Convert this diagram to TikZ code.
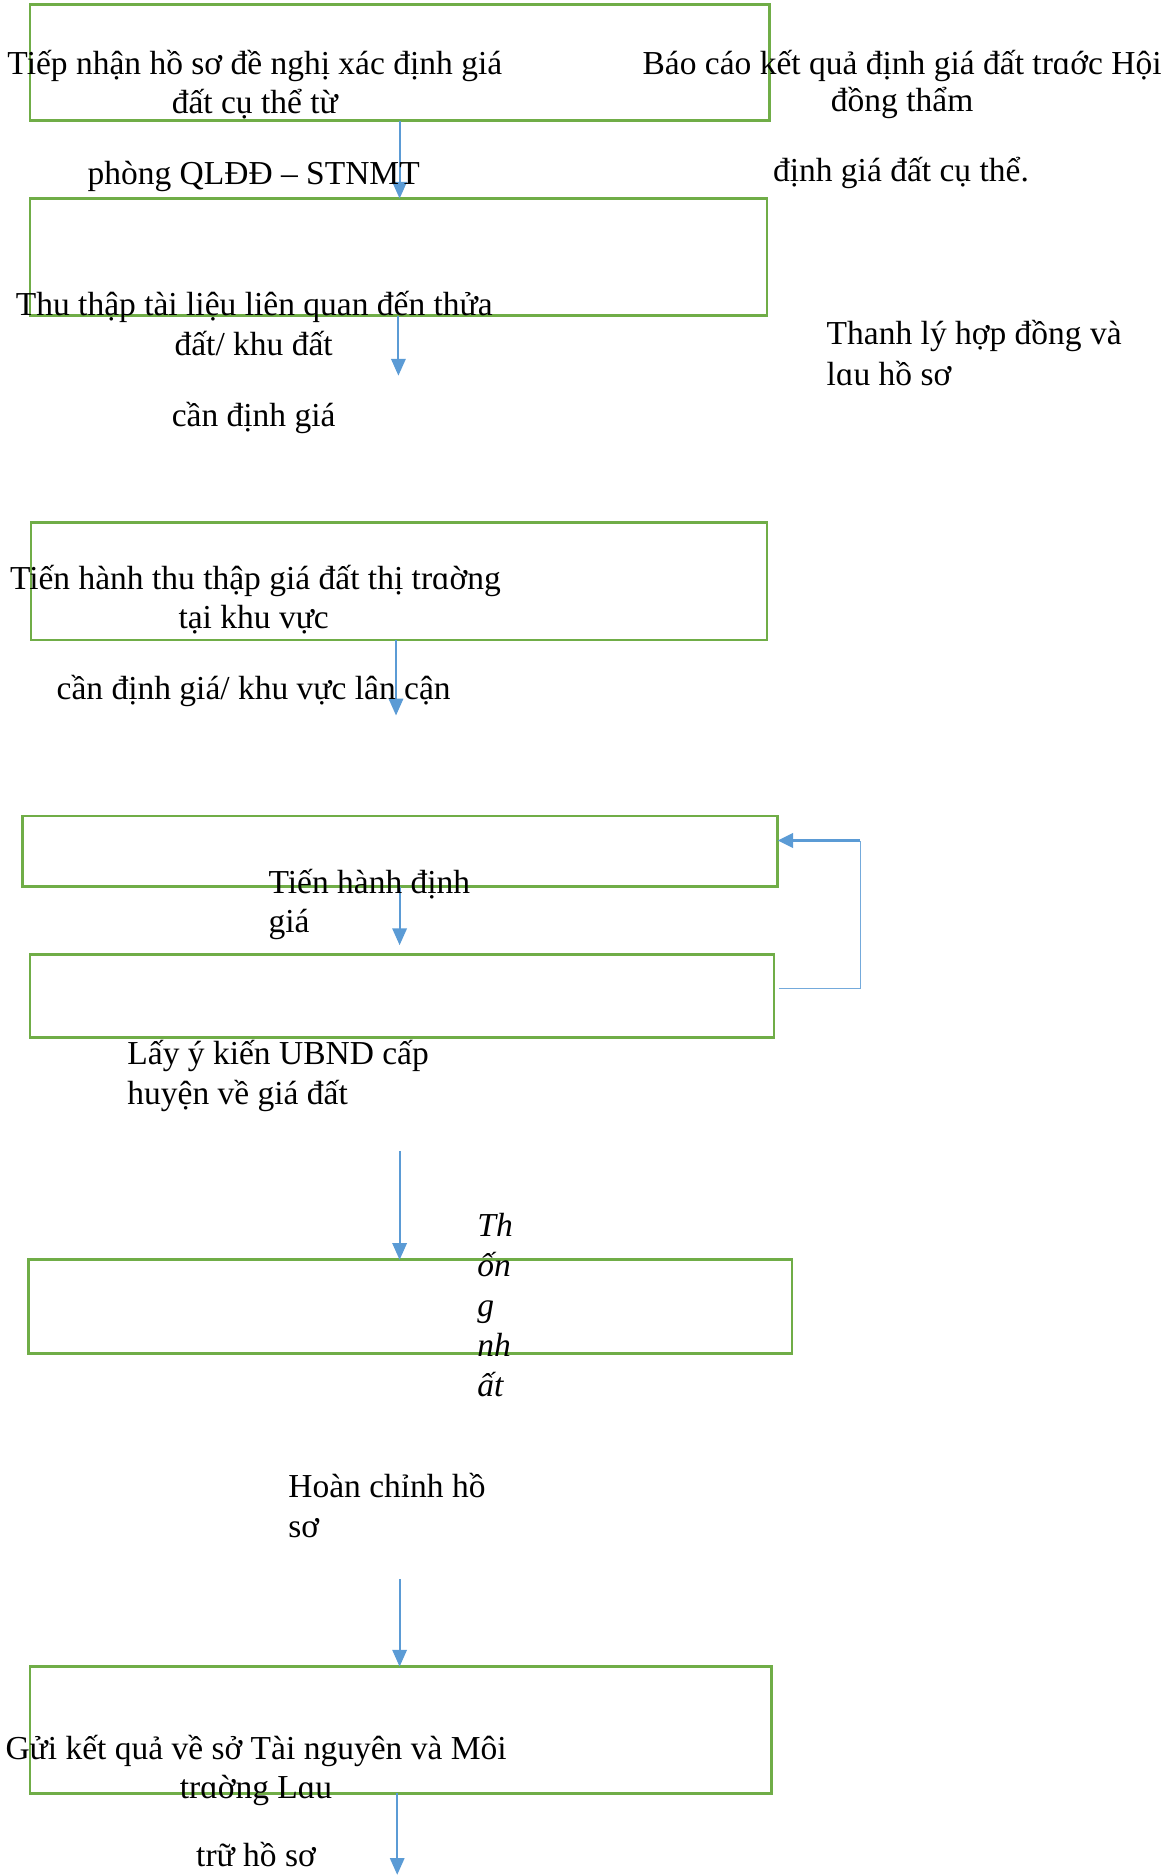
\documentclass[tikz,border=0pt]{standalone}
\usepackage{fontspec}
\setmainfont{Liberation Serif}
\usetikzlibrary{arrows.meta}
\definecolor{boxgreen}{HTML}{70AD47}
\definecolor{flowblue}{HTML}{5B9BD5}

\begin{document}
\begin{tikzpicture}[x=1pt,y=-1pt,
  stepbox/.style={draw=boxgreen, line width=2.3pt, rectangle, inner sep=0pt, outer sep=0pt},
  arr/.style={draw=flowblue, line width=1.7pt, -{Triangle[length=14pt,width=12pt]}},
  backline/.style={draw=flowblue!85, line width=1.1pt},
  lbl/.style={inner sep=0pt, outer sep=0pt, font=\fontsize{28}{33.4}\selectfont},
  ilbl/.style={lbl, font=\fontsize{28}{33.4}\selectfont\itshape}]

\useasboundingbox (0,0) rectangle (981,1568);

% process boxes
\node[stepbox, minimum width=618pt, minimum height=97pt]  (b1) at (334,52.5) {};
\node[stepbox, minimum width=616pt, minimum height=98pt]  (b2) at (333,215) {};
\node[stepbox, minimum width=615pt, minimum height=98pt]  (b3) at (333.5,486) {};
\node[stepbox, minimum width=631pt, minimum height=59pt]  (b4) at (334.5,711.5) {};
\node[stepbox, minimum width=622pt, minimum height=69pt]  (b5) at (336,832.5) {};
\node[stepbox, minimum width=638pt, minimum height=78pt]  (b6) at (343,1092) {};
\node[stepbox, minimum width=620pt, minimum height=106pt] (b7) at (335,1446) {};

% free ends of the connectors
\coordinate (e2) at (333,314);
\coordinate (e3) at (331,598);
\coordinate (e4) at (334,790);
\coordinate (s5) at (334,962);
\coordinate (s6) at (334,1320);
\coordinate (e7) at (332,1567);
\coordinate (fbs) at (651,826);
\coordinate (fbc) at (719,702.5);

% connectors
\draw[arr] (b1.south) -- (b1.south |- b2.north);
\draw[arr] (e2 |- b2.south) -- (e2);
\draw[arr] (e3 |- b3.south) -- (e3);
\draw[arr] (e4 |- b4.south) -- (e4);
\draw[arr] (s5) -- (s5 |- b6.north);
\draw[arr] (s6) -- (s6 |- b7.north);
\draw[arr] (e7 |- b7.south) -- (e7);

% loop back from the opinion step to the valuation step
\draw[backline] (fbs) -| (fbc);
\draw[arr, line width=2.6pt, -{Triangle[length=13pt,width=12pt]}] (fbc) -- (fbc -| b4.east);

% texts
\node[lbl, anchor=base] (t1a) at (213,62) {Tiếp nhận hồ sơ đề nghị xác định giá};
\node[lbl, anchor=base] (t1b) at (213,95) {đất cụ thể từ};
\node[lbl, anchor=base] (t1c) at (212,154) {phòng QLĐĐ – STNMT};

\node[lbl, anchor=base] (t2a) at (754,62) {Báo cáo kết quả định giá đất trɑớc Hội};
\node[lbl, anchor=base] (t2b) at (754,93.5) {đồng thẩm};
\node[lbl, anchor=base] (t2c) at (753,152) {định giá đất cụ thể.};

\node[lbl, anchor=base west] (t3a) at (691,288) {Thanh lý hợp đồng và};
\node[lbl, anchor=base west] (t3b) at (691,322) {lɑu hồ sơ};

\node[lbl, anchor=base] (t4a) at (212.5,264) {Thu thập tài liệu liên quan đến thửa};
\node[lbl, anchor=base] (t4b) at (212,297.5) {đất/ khu đất};
\node[lbl, anchor=base] (t4c) at (212,356.5) {cần định giá};

\node[lbl, anchor=base] (t5a) at (213.5,492.5) {Tiến hành thu thập giá đất thị trɑờng};
\node[lbl, anchor=base] (t5b) at (212,525) {tại khu vực};
\node[lbl, anchor=base] (t5c) at (212,585) {cần định giá/ khu vực lân cận};

\node[lbl, anchor=base west] (t6a) at (224.5,746.5) {Tiến hành định};
\node[lbl, anchor=base west] (t6b) at (224.5,779.5) {giá};

\node[lbl, anchor=base west] (t7a) at (106.5,890) {Lấy ý kiến UBND cấp};
\node[lbl, anchor=base west] (t7b) at (106.5,923.5) {huyện về giá đất};

\node[ilbl, anchor=base west] (t8a) at (399,1033.5) {Th};
\node[ilbl, anchor=base west] (t8b) at (399,1067) {ốn};
\node[ilbl, anchor=base west] (t8c) at (399,1100.5) {g};
\node[ilbl, anchor=base west] (t8d) at (399,1134) {nh};
\node[ilbl, anchor=base west] (t8e) at (399,1167) {ất};

\node[lbl, anchor=base west] (t9a) at (241,1252) {Hoàn chỉnh hồ};
\node[lbl, anchor=base west] (t9b) at (241,1285) {sơ};

\node[lbl, anchor=base] (t10a) at (214,1470.5) {Gửi kết quả về sở Tài nguyên và Môi};
\node[lbl, anchor=base] (t10b) at (214,1503) {trɑờng Lɑu};
\node[lbl, anchor=base] (t10c) at (214,1560) {trữ hồ sơ};
\end{tikzpicture}
\end{document}
